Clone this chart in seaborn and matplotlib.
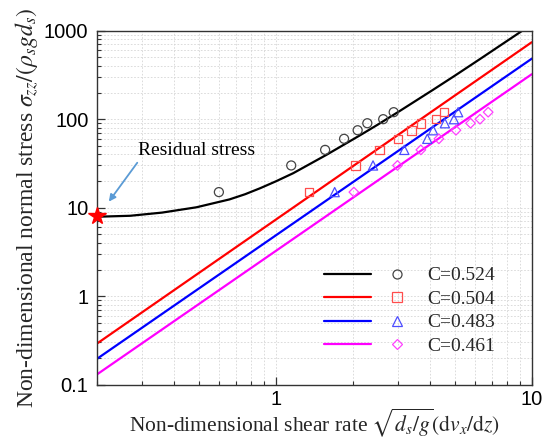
import numpy as np
import pandas as pd
import matplotlib
matplotlib.use('Agg')
import matplotlib.pyplot as plt
import seaborn as sns
from matplotlib.legend_handler import HandlerTuple
from matplotlib.lines import Line2D
from matplotlib.ticker import FixedLocator, FixedFormatter, NullFormatter, LogLocator

# ---- data ----
labels = ['C=0.524', 'C=0.504', 'C=0.483', 'C=0.461']

# model curve for C=0.524 (with residual stress)
curve_x = [0.2, 0.27, 0.36, 0.49, 0.66, 0.76, 0.87, 1.0, 1.17, 1.58, 2.13, 2.5, 3.05, 4.12, 5.0, 6.28, 9.14, 10]
curve_y = [7.9, 8.1, 8.8, 10.1, 12.4, 14.2, 16.6, 19.8, 24.5, 39.6, 65.5, 86.5, 123.6, 215, 309, 478, 989, 1180]

# straight model lines (end points) for the other concentrations
line_x = [0.2, 10]
red_y = [0.29, 740]
blue_y = [0.195, 482]
mag_y = [0.13, 322]

# experimental points
pts_y = [15, 30, 45, 60, 75, 90, 100, 120]
circ_x = [0.60, 1.15, 1.56, 1.85, 2.09, 2.28, 2.63, 2.89]
sq_x = [1.35, 2.05, 2.54, 3.01, 3.40, 3.69, 4.23, 4.54]
tri_x = [1.70, 2.40, 3.18, 3.91, 4.12, 4.58, 4.97, 5.16]
dia_x = [2.02, 2.99, 3.69, 4.34, 5.06, 5.77, 6.28, 6.76]

residual_x = 0.2
residual_y = 8.0

sns.set_style('ticks')
plt.rcParams['font.family'] = ['Liberation Sans', 'DejaVu Sans']
plt.rcParams['mathtext.fontset'] = 'stix'

fig = plt.figure(figsize=(5.44, 4.44), dpi=100)
ax = fig.add_axes([0.1778, 0.1336, 0.7996, 0.7973])

ax.set_xscale('log')
ax.set_yscale('log')

line_cols = ['black', '#ff0000', '#0000ff', '#ff00ff']
mk_cols = ['#444444', '#ff4d4d', '#4d4dff', '#ff40ff']

sns.lineplot(x=curve_x, y=curve_y, ax=ax, color=line_cols[0], lw=1.6, sort=False)
for yy, c in zip([red_y, blue_y, mag_y], line_cols[1:]):
    sns.lineplot(x=line_x, y=yy, ax=ax, color=c, lw=1.6, sort=False)

marks = ['o', 's', '^', 'D']
sizes = [42, 38, 44, 24]
for xs, m, c, s in zip([circ_x, sq_x, tri_x, dia_x], marks, mk_cols, sizes):
    sns.scatterplot(x=xs, y=pts_y, ax=ax, marker=m, s=s, color=c, linewidth=0.9, zorder=4)
    coll = ax.collections[-1]
    coll.set_facecolor('none')
    coll.set_edgecolor(c)

# residual stress star
ax.plot([residual_x], [residual_y], marker='*', color='#ff0000', ms=13, clip_on=False, zorder=6, ls='none')
ax.text(0.289, 39.4, 'Residual stress', fontsize=14, family='Liberation Serif', color='black',
        ha='left', va='baseline')
ax.annotate('', xy=(0.223, 11.7), xytext=(0.288, 32.2),
            arrowprops=dict(arrowstyle='-|>', color='#5b9bd5', lw=1.3, mutation_scale=10,
                            shrinkA=0, shrinkB=0))

ax.set_xlim(0.2, 10)
ax.set_ylim(0.1, 1000)

ax.xaxis.set_major_locator(FixedLocator([1, 10]))
ax.xaxis.set_major_formatter(FixedFormatter(['1', '10']))
ax.xaxis.set_minor_locator(LogLocator(base=10, subs=np.arange(2, 10)))
ax.xaxis.set_minor_formatter(NullFormatter())
ax.yaxis.set_major_locator(FixedLocator([0.1, 1, 10, 100, 1000]))
ax.yaxis.set_major_formatter(FixedFormatter(['0.1', '1', '10', '100', '1000']))
ax.yaxis.set_minor_locator(LogLocator(base=10, subs=np.arange(2, 10)))
ax.yaxis.set_minor_formatter(NullFormatter())

ax.tick_params(which='both', direction='in', top=False, right=False, colors='#333333', labelcolor='black')
ax.tick_params(which='major', length=6, width=0.9, labelsize=14.5, pad=6)
ax.tick_params(axis='x', which='major', pad=4)
ax.tick_params(which='minor', length=3, width=0.8)

ax.grid(True, which='both', ls=(0, (2, 2)), color='#d6d6d6', lw=0.6)
ax.set_axisbelow(True)
for sp in ax.spines.values():
    sp.set_color('#333333')
    sp.set_linewidth(1.0)

ax.set_xlabel(r'Non-dimensional shear rate $\sqrt{d_s/g}(\mathrm{d}v_x/\mathrm{d}z)$',
              fontsize=15.5, family='Liberation Serif', va='baseline')
ax.xaxis.set_label_coords(0.5, -0.132)
ax.set_ylabel(r'Non-dimensional normal stress $\sigma_{zz}/(\rho_s g d_s)$',
              fontsize=17, family='Liberation Serif', labelpad=3)

handles = []
for lc, mc, m in zip(line_cols, mk_cols, marks):
    ln = Line2D([], [], color=lc, lw=1.6)
    mk = Line2D([], [], ls='none', marker=m, ms=6.5 if m != 'D' else 5, mfc='none', mec=mc, mew=0.9)
    handles.append((ln, mk))
leg = ax.legend(handles, labels, handler_map={tuple: HandlerTuple(ndivide=2, pad=0.17)},
                loc='lower right', bbox_to_anchor=(0.955, 0.035), frameon=False,
                handlelength=5.0, handletextpad=0.3, labelspacing=0.3,
                prop={'family': 'Liberation Serif', 'size': 14})

fig.savefig('out.png', dpi=100)
